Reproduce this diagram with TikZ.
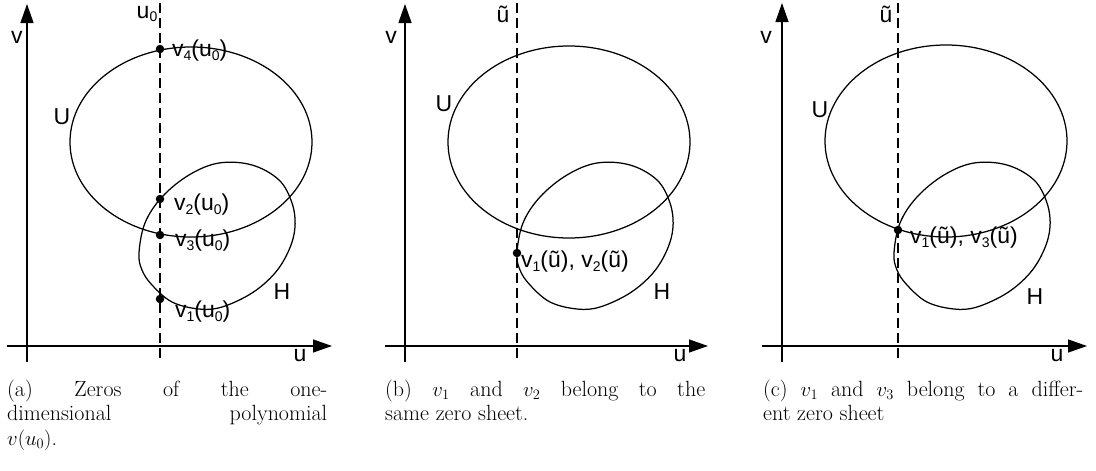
\documentclass[tikz,border=0pt]{standalone}
\usepackage{fontspec}
\newfontfamily\labfont{Liberation Sans}
\usetikzlibrary{arrows.meta}
\newcommand{\lsub}[1]{\raisebox{-3.5pt}{\fontsize{14}{14}\selectfont #1}}
\newcommand{\jline}[1]{\makebox[320pt][s]{#1}}
\begin{document}
\begin{tikzpicture}[x=1pt,y=-1pt,
  axis/.style={line width=1.3pt,-{Triangle[length=19pt,width=13pt]}},
  curve/.style={line width=1.25pt},
  dashline/.style={line width=1.2pt,dash pattern=on 10pt off 5pt},
  lab/.style={inner sep=0pt,font=\labfont\fontsize{23}{23}\selectfont},
  dot/.style={circle,fill=black,inner sep=0pt,minimum size=8.5pt},
  capt/.style={inner sep=0pt,anchor=base west,font=\fontsize{22}{25}\selectfont}]
\useasboundingbox (0,0) rectangle (1096,471);
\def\Hshape{(139,253) (145,223) (162,197) (189,175) (219,163) (252,165) (279,180) (292,203) (295,227) (289,250) (275,273) (252,293) (222,307) (199,309) (172,302) (152,285) (142,270)}

% ---------- panel (a)
\coordinate (a-yb) at (27,362); \coordinate (a-yt) at (27,4);
\coordinate (a-xl) at (7,346);  \coordinate (a-xr) at (332,346);
\coordinate (a-dt) at (160,3);  \coordinate (a-db) at (160,362);
\draw[axis] (a-yb) -- (a-yt);
\draw[axis] (a-xl) -- (a-xr);
\draw[dashline] (a-dt) -- (a-db);
\draw[curve] (191,142) ellipse [x radius=121pt, y radius=95pt];
\draw[curve] plot[smooth cycle, tension=0.6] coordinates {\Hshape};
\node[lab] (a-v) at (17,37) {v};
\node[lab] (a-u) at (300,356) {u};
\node[lab] (a-u0) at (147,14) {u\lsub{0}};
\node[lab] (a-U) at (62,117) {U};
\node[lab] (a-H) at (282,292) {H};
\node[dot] (a-p4) at (160,49) {};
\node[dot] (a-p2) at (160,199) {};
\node[dot] (a-p3) at (160,235) {};
\node[dot] (a-p1) at (160,299) {};
\node[lab,anchor=west] (a-l4) at (172,51) {v\lsub{4}(u\lsub{0})};
\node[lab,anchor=west] (a-l2) at (174,205) {v\lsub{2}(u\lsub{0})};
\node[lab,anchor=west] (a-l3) at (175,241) {v\lsub{3}(u\lsub{0})};
\node[lab,anchor=west] (a-l1) at (175,312) {v\lsub{1}(u\lsub{0})};
\node[capt] (a-cap1) at (7,396) {\jline{(a) Zeros of the one-}};
\node[capt] (a-cap2) at (7,420.5) {\jline{dimensional polynomial}};
\node[capt] (a-cap3) at (7,445) {$v(u_0)$.};

% ---------- panel (b)
\coordinate (b-yb) at (405,362); \coordinate (b-yt) at (405,4);
\coordinate (b-xl) at (385,346); \coordinate (b-xr) at (708,346);
\coordinate (b-dt) at (517,3);   \coordinate (b-db) at (517,362);
\draw[axis] (b-yb) -- (b-yt);
\draw[axis] (b-xl) -- (b-xr);
\draw[dashline] (b-dt) -- (b-db);
\draw[curve] (569,142) ellipse [x radius=121pt, y radius=96pt];
\begin{scope}[shift={(378,0)}]
\draw[curve] plot[smooth cycle, tension=0.6] coordinates {\Hshape};
\end{scope}
\node[lab] (b-v) at (391,37) {v};
\node[lab] (b-u) at (680,356) {u};
\node[lab] (b-ut) at (503,14) {ũ};
\node[lab] (b-U) at (444,104) {U};
\node[lab] (b-H) at (662,292) {H};
\node[dot] (b-p) at (517,253) {};
\node[lab,anchor=west] (b-l) at (521,262) {v\lsub{1}(ũ), v\lsub{2}(ũ)};
\node[capt] (b-cap1) at (385,396) {\jline{(b) $v_1$ and $v_2$ belong to the}};
\node[capt] (b-cap2) at (385,420.5) {same zero sheet.};

% ---------- panel (c)
\coordinate (c-yb) at (782,362); \coordinate (c-yt) at (782,3);
\coordinate (c-xl) at (762,346); \coordinate (c-xr) at (1087,346);
\coordinate (c-dt) at (898,3);   \coordinate (c-db) at (898,362);
\draw[axis] (c-yb) -- (c-yt);
\draw[axis] (c-xl) -- (c-xr);
\draw[dashline] (c-dt) -- (c-db);
\draw[curve] (946,141) ellipse [x radius=121pt, y radius=96pt];
\begin{scope}[shift={(755,0)}]
\draw[curve] plot[smooth cycle, tension=0.6] coordinates {\Hshape};
\end{scope}
\node[lab] (c-v) at (766,37) {v};
\node[lab] (c-u) at (1057,356) {u};
\node[lab] (c-ut) at (886,14) {ũ};
\node[lab] (c-U) at (820,110) {U};
\node[lab] (c-H) at (1035,297) {H};
\node[dot] (c-p) at (898,230) {};
\node[lab,anchor=west] (c-l) at (910,238) {v\lsub{1}(ũ), v\lsub{3}(ũ)};
\node[capt] (c-cap1) at (763,396) {\jline{(c) $v_1$ and $v_3$ belong to a differ-}};
\node[capt] (c-cap2) at (763,420.5) {ent zero sheet};
\end{tikzpicture}
\end{document}
